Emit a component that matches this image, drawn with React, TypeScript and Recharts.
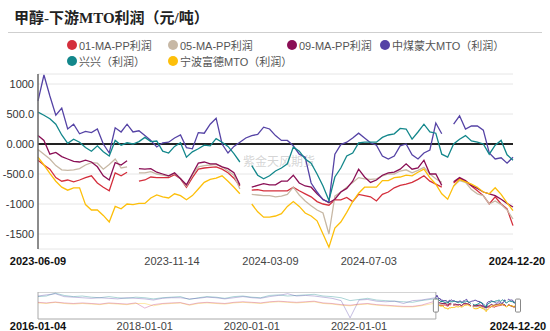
import React from 'react';
import { LineChart, Line, XAxis, YAxis, CartesianGrid, ReferenceLine, ReferenceArea, ReferenceDot } from 'recharts';

// weekly samples
const DATES = [
  '2023-06-09', '2023-06-16', '2023-06-23', '2023-06-30', '2023-07-07', '2023-07-14', '2023-07-21', '2023-07-28',
  '2023-08-04', '2023-08-11', '2023-08-18', '2023-08-25', '2023-09-01', '2023-09-08', '2023-09-15', '2023-09-22',
  '2023-09-29', '2023-10-06', '2023-10-13', '2023-10-20', '2023-10-27', '2023-11-03', '2023-11-10', '2023-11-17',
  '2023-11-24', '2023-12-01', '2023-12-08', '2023-12-15', '2023-12-22', '2023-12-29',
  '2024-01-05', '2024-01-12', '2024-01-19', '2024-01-26', '2024-02-02', '2024-02-09', '2024-02-16', '2024-02-23',
  '2024-03-01', '2024-03-08', '2024-03-15', '2024-03-22', '2024-03-29', '2024-04-05', '2024-04-12', '2024-04-19',
  '2024-04-26', '2024-05-03', '2024-05-10', '2024-05-17', '2024-05-24', '2024-05-31', '2024-06-07', '2024-06-14',
  '2024-06-21', '2024-06-28', '2024-07-05', '2024-07-12', '2024-07-19', '2024-07-26', '2024-08-02', '2024-08-09',
  '2024-08-16', '2024-08-23', '2024-08-30', '2024-09-06', '2024-09-13', '2024-09-20', '2024-09-27', '2024-10-04',
  '2024-10-11', '2024-10-18', '2024-10-25', '2024-11-01', '2024-11-08', '2024-11-15', '2024-11-22', '2024-11-29',
  '2024-12-06', '2024-12-13', '2024-12-20',
];

const MA01 = [
  -270, -350, -420, -560, -620, -600, -630, -600, -560, -530, -650, -720, -780, -480,
  -530, -470, null, -620, -600, -550, -560, -560, -560, -510, -580, -720, -560,
  -420, -400, -390, -380, -420, -480, -570, -700, null, -770, -760, -780, -780,
  -780, -780, -780, -720, -780, -830, -880, -960, -1000, -1020, -930, -930, -890,
  -960, -840, -860, -880, -950, -840, -800, -730, -690, -670, -640, -590, -530,
  -620, -670, -720, null, -650, -570, -620, -700, -780, -860, -1000, -880, -1000, -1080, -1360,
];
const MA05 = [
  -90, -170, -250, -360, -430, -440, -430, -410, -350, -310, -320, -420, -340, -250,
  -400, -380, null, -480, -480, -460, -500, -520, -540, -490, -580, -700, -520,
  -380, -360, -350, -340, -380, -450, -520, -750, null, -840, -850, -860, -860,
  -880, -870, -840, -720, -850, -950, -1030, -1100, -1150, -1500, -870, -800, -720,
  -640, -560, -580, -590, -580, -530, -500, -500, -450, -430, -480, -440, -390,
  -500, -580, -640, null, -700, -610, -640, -760, -830, -860, -1000, -950, -1010, -1100, -1250,
];
const MA09 = [
  140, 60, -170, -140, -210, -250, -290, -300, -270, -300, -380, -530, -600, -310,
  -350, -280, null, -410, -420, -410, -470, -500, -530, -480, -580, -680, -500,
  -320, -300, -330, -330, -380, -410, -480, -680, null, -720, -690, -660, -680,
  -680, -620, -620, -520, -650, -700, -720, -830, -920, -980, -920, -800, -740,
  -620, -420, -550, -640, -600, -520, -480, -470, -420, -330, -420, -400, -270,
  -500, -500, -690, null, -630, -560, -610, -690, -740, -800, -830, -860, -920, -990, -1050,
];
const MENGDA = [
  720, 1150, 800, 480, 600, 250, 330, 170, 210, 190, 250, 0, -150, 270,
  200, 330, 200, 220, 140, 60, -50, 20, 30, 100, 150, -60, -80,
  190, 180, 330, 430, 0, -150, -40, 30, 100, 140, 160, 280, 250,
  140, 60, 60, -30, -170, -220, -650, -800, -930, -970, -170, -10, 30,
  100, 180, 100, 20, -20, -200, -250, -200, -30, 0, -180, -250, -150,
  -100, 350, 170, null, 330, 470, 250, 300, 300, 230, -150, -250, -230, -320, -220,
];
const XINGXING = [
  530, 480, 420, 330, 150, 10, 80, 30, -60, -120, -30, -130, -200, 60,
  -20, 20, 0, 40, 110, 40, 50, -120, -150, -40, 20, -220, -130,
  -80, -20, -30, 90, 30, -40, -160, -300, null, -360, -520, -580, -530,
  -450, -400, -330, -50, -120, -250, -320, -500, -700, -940, -550, -400, -200,
  -150, 20, 30, 30, 30, 110, 150, 170, 260, 250, 80, 200, 330,
  200, 180, -170, -220, 0, 80, 140, 50, 30, 0, -170, -20, 60, -180, -270,
];
const FUDE = [
  -220, -350, -490, -620, -720, -770, -730, -730, -1010, -1100, -1100, -1190, -1300, -1040,
  -1080, -1000, -1010, -990, -990, -900, -850, -880, -900, -830, -860, -930, -860,
  -750, -640, -590, -570, -530, -620, -720, -830, null, -1000, -1130, -1220, -1220,
  -1200, -1160, -1040, -960, -1040, -1150, -1200, -1280, -1500, -1720, -1400, -1300, -1140,
  -960, -820, -720, -720, -720, -610, -610, -560, -550, -520, -530, -470, -420,
  -560, -670, -830, -920, -700, -590, -630, -670, -720, -800, -830, -730, -840, -980, -1110,
];

// longer history shown faded in the navigator (bi-monthly)
const HIST_DATES = [
  '2016-01-04', '2016-03-01', '2016-05-01', '2016-07-01', '2016-09-01', '2016-11-01',
  '2017-01-01', '2017-03-01', '2017-05-01', '2017-07-01', '2017-09-01', '2017-11-01',
  '2018-01-01', '2018-03-01', '2018-05-01', '2018-07-01', '2018-09-01', '2018-11-01',
  '2019-01-01', '2019-03-01', '2019-05-01', '2019-07-01', '2019-09-01', '2019-11-01',
  '2020-01-01', '2020-03-01', '2020-05-01', '2020-07-01', '2020-09-01', '2020-11-01',
  '2021-01-01', '2021-03-01', '2021-05-01', '2021-07-01', '2021-09-01', '2021-11-01',
  '2022-01-01', '2022-03-01', '2022-05-01', '2022-07-01', '2022-09-01', '2022-11-01',
  '2023-01-01', '2023-03-01', '2023-06-09',
];
const H_TEAL = [900, 1000, 1500, 1100, 900, 1000, 800, 700, 900, 700, 600, 800, 700, 500, 700, 800, 900, 400,
  700, 900, 800, 600, 900, 1000, 800, 700, 1100, 1200, 1000, 1100, 1200, 1300, 1000, 900, 700, 200,
  400, 600, 300, 200, 100, 0, -100, 200, 530];
const H_PURPLE = [1000, 1200, 1400, 900, 800, 700, 600, 700, 600, 500, 700, 600, 500, 300, 600, 700, 700, 500,
  600, 800, 700, 500, 700, 900, 700, 600, 900, 1100, 1400, 1000, 1100, 1000, 800, 600, 200, -2800,
  300, 400, 100, 0, 100, -300, 200, 300, 720];
const H_YELLOW = [-200, -300, -100, -300, -400, -300, -400, -500, -300, -400, -500, -300, -300, -700, -400, -300, -200, -600,
  -300, -200, -300, -400, -200, -100, -200, -300, -100, 0, -100, -200, -100, 0, -300, -400, -600, -700,
  -500, -400, -600, -700, -800, -900, -900, -700, -220];
const H_PINK = [-100, -200, -50, -200, -300, -200, -300, -400, -200, -300, -400, -200, -1100, -500, -300, -200, -150, -500,
  -200, -100, -200, -300, -100, 0, -100, -200, 0, 100, 0, -100, 0, 100, -200, -300, -500, -600,
  -400, -300, -500, -600, -700, -800, -800, -600, 140];

const X_TICKS = ['2023-06-09', '2023-11-14', '2024-03-09', '2024-07-03', '2024-12-20'];
const Y_TICKS = [1000, 500, 0, -500, -1000, -1500];
const NAV_TICKS = ['2016-01-04', '2018-01-01', '2020-01-01', '2022-01-01', '2024-12-20'];

const SERIES = [
  { key: 'ma01', name: '01-MA-PP利润', color: '#d42f3c', values: MA01 },
  { key: 'ma05', name: '05-MA-PP利润', color: '#c7b8a5', values: MA05 },
  { key: 'ma09', name: '09-MA-PP利润', color: '#8a0f55', values: MA09 },
  { key: 'mengda', name: '中煤蒙大MTO（利润）', color: '#5543a5', values: MENGDA },
  { key: 'xingxing', name: '兴兴（利润）', color: '#13878b', values: XINGXING },
  { key: 'fude', name: '宁波富德MTO（利润）', color: '#fdbf0a', values: FUDE },
];

const HISTORY = [
  { key: 'h1', color: '#13878b', values: H_TEAL },
  { key: 'h2', color: '#5543a5', values: H_PURPLE },
  { key: 'h3', color: '#fdbf0a', values: H_YELLOW },
  { key: 'h4', color: '#c0307a', values: H_PINK },
];

const FONT = '"Liberation Sans", Arial, "Noto Sans CJK SC", sans-serif';

const day = (s: string) => Date.UTC(+s.slice(0, 4), +s.slice(5, 7) - 1, +s.slice(8, 10)) / 86400000;
const fmtDay = (d: number) => new Date(d * 86400000).toISOString().slice(0, 10);

const rows = DATES.map((d, i) => {
  const r: any = { t: day(d) };
  SERIES.forEach(s => { r[s.key] = s.values[i]; });
  return r;
});
const histRows = HIST_DATES.map((d, i) => {
  const r: any = { t: day(d) };
  HISTORY.forEach(h => { r[h.key] = h.values[i]; });
  return r;
});

const DateTick = (ticks: string[], gap: number, lastShift: number) => (p: any) => {
  const last = p.index === ticks.length - 1;
  const bold = p.index === 0 || last;
  return (
    <text x={p.x + (last ? lastShift : 0)} y={p.y + gap} textAnchor="middle" fontSize={11} fontFamily={FONT}
      fontWeight={bold ? 700 : 400} fill={bold ? '#111' : '#444'}>
      {fmtDay(p.payload.value)}
    </text>
  );
};

const Handle = (p: any) => (
  <rect x={p.cx - 2.5} y={p.cy - 6.5} width={5} height={13} rx={1} fill="#fff" stroke="#888" strokeWidth={1} />
);

const LEGEND = [
  { i: 0, x: 72, y: 45 }, { i: 1, x: 173, y: 45 }, { i: 2, x: 292, y: 45 }, { i: 3, x: 385, y: 45 },
  { i: 4, x: 72, y: 61 }, { i: 5, x: 173, y: 61 },
];

export default function App() {
  const t0 = day(DATES[0]);
  const t1 = day(DATES[DATES.length - 1]);
  const h0 = day(HIST_DATES[0]);
  return (
    <div style={{ position: 'absolute', left: 0, top: 0, width: 550, height: 331, background: '#fff', fontFamily: FONT, overflow: 'hidden' }}>
      <div style={{ position: 'absolute', left: 14, top: 8, fontSize: 15, fontWeight: 700, color: '#222',
        fontFamily: '"Liberation Serif", "Noto Sans CJK SC", serif', lineHeight: '20px' }}>
        甲醇-下游MTO利润（元/吨）
      </div>
      <div style={{ position: 'absolute', left: 8, top: 32, width: 534, height: 1, background: '#cfcfcf' }} />
      {LEGEND.map(l => (
        <div key={l.i} style={{ position: 'absolute', left: l.x - 5, top: l.y - 7, height: 14, display: 'flex',
          alignItems: 'center', fontSize: 11, color: '#555', whiteSpace: 'nowrap' }}>
          <span style={{ width: 10, height: 10, borderRadius: 5, background: SERIES[l.i].color, marginRight: 2 }} />
          {SERIES[l.i].name}
        </div>
      ))}
      <div style={{ position: 'absolute', left: 243, top: 152, fontSize: 12, color: 'rgba(160,160,160,0.45)',
        fontFamily: '"Noto Sans CJK SC", sans-serif' }}>
        紫金天风期货
      </div>

      <div style={{ position: 'absolute', left: 0, top: 0 }}>
        <LineChart width={550} height={275} data={rows} margin={{ top: 74, right: 37, left: 0, bottom: 0 }}>
          <CartesianGrid stroke="#e6e6e6" strokeWidth={1}
            verticalCoordinatesGenerator={(props: any) => {
              const sc = props?.xAxis?.scale;
              if (typeof sc !== 'function') return [];
              return X_TICKS.slice(1, -1).map(d => sc(day(d)));
            }} />
          <XAxis dataKey="t" type="number" domain={[t0, t1]} ticks={X_TICKS.map(day)} height={26}
            axisLine={false} tickLine={false} tickSize={0} tick={DateTick(X_TICKS, 14, 4)} interval={0} />
          <YAxis width={38} domain={[-1750, 1166.67]} ticks={Y_TICKS} allowDataOverflow
            tickFormatter={(v: number) => v.toPrecision(4)} tickLine={false} tickSize={0} tickMargin={4}
            axisLine={{ stroke: '#666', strokeWidth: 1.5 }}
            tick={{ fontSize: 11, fill: '#333', fontFamily: FONT }} interval={0} />
          <ReferenceLine y={0} stroke="#222" strokeWidth={2} />
          {SERIES.map(s => (
            <Line key={s.key} dataKey={s.key} stroke={s.color} strokeWidth={1.3} dot={false}
              type="linear" isAnimationActive={false} connectNulls={false} />
          ))}
        </LineChart>
      </div>

      <div style={{ position: 'absolute', left: 0, top: 292 }}>
        <LineChart width={550} height={39} margin={{ top: 0, right: 32, left: 38, bottom: 0 }}>
          <XAxis dataKey="t" type="number" domain={[h0, t1]} ticks={NAV_TICKS.map(day)} height={12}
            axisLine={false} tickLine={false} tickSize={0} tick={DateTick(NAV_TICKS, 9, 0)} interval={0} />
          <YAxis hide domain={[-3000, 1700]} allowDataOverflow />
          {HISTORY.map(h => (
            <Line key={h.key} data={histRows} dataKey={h.key} stroke={h.color} strokeOpacity={0.35}
              strokeWidth={1} dot={false} isAnimationActive={false} />
          ))}
          {SERIES.map(s => (
            <Line key={s.key} data={rows} dataKey={s.key} stroke={s.color} strokeWidth={1} dot={false}
              isAnimationActive={false} />
          ))}
          <ReferenceArea x1={h0} x2={t0} fill="none" stroke="#aaa" strokeWidth={1} />
          <ReferenceDot x={t0} y={-660} shape={Handle} />
          <ReferenceDot x={t1} y={-660} shape={Handle} />
        </LineChart>
      </div>
    </div>
  );
}
